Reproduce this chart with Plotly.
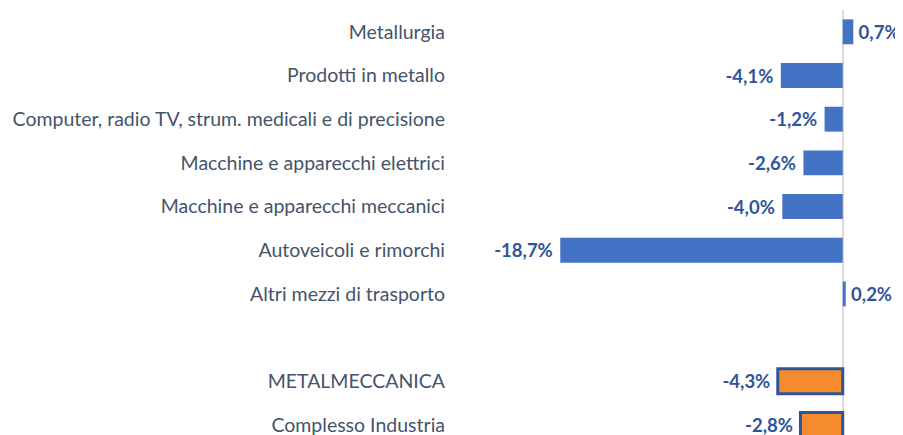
import plotly.graph_objects as go

categories = [
    "Metallurgia",
    "Prodotti in metallo",
    "Computer, radio TV, strum. medicali e di precisione",
    "Macchine e apparecchi elettrici",
    "Macchine e apparecchi meccanici",
    "Autoveicoli e rimorchi",
    "Altri mezzi di trasporto",
]
values = [0.7, -4.1, -1.2, -2.6, -4.0, -18.7, 0.2]

total_categories = ["METALMECCANICA", "Complesso Industria"]
total_values = [-4.3, -2.8]

spacer = " "
order = categories + [spacer] + total_categories

NB = "\u00a0"
THIN = "\u2009"


def fmt(v):
    s = f"{v:.1f}".replace(".", ",") + "%"
    return (s + NB) if v < 0 else (THIN + s)


fig = go.Figure()
fig.add_trace(go.Bar(
    y=categories, x=values, orientation="h",
    marker=dict(color="#4472C4", line=dict(width=0)),
    text=[fmt(v) for v in values], textposition="outside",
    textfont=dict(family="Lato", size=18.5, color="#2F5597", weight="bold"),
    cliponaxis=False, showlegend=False,
))
fig.add_trace(go.Bar(
    y=total_categories, x=total_values, orientation="h",
    marker=dict(color="#F58B2E", line=dict(color="#2F5597", width=3)),
    text=[fmt(v) for v in total_values], textposition="outside",
    textfont=dict(family="Lato", size=18.5, color="#2F5597", weight="bold"),
    cliponaxis=False, showlegend=False,
))

# page body has an 8px margin, so the figure is drawn a little smaller
fig.update_layout(
    width=895, height=427,
    margin=dict(l=442, r=0, t=2, b=0),
    paper_bgcolor="white", plot_bgcolor="white",
    barmode="overlay", bargap=0.43,
    font=dict(family="Lato", size=19, color="#44546A"),
    xaxis=dict(range=[-26.0, 3.99], showgrid=False, showticklabels=False,
               zeroline=True, zerolinecolor="#D9D9D9", zerolinewidth=1.5,
               fixedrange=True),
    yaxis=dict(type="category", categoryorder="array", categoryarray=order,
               range=[9.23, -0.5], showgrid=False, zeroline=False,
               ticks="", ticklabelstandoff=4,
               tickfont=dict(family="Lato", size=19.5, color="#44546A")),
)

fig.write_html("out.html")
